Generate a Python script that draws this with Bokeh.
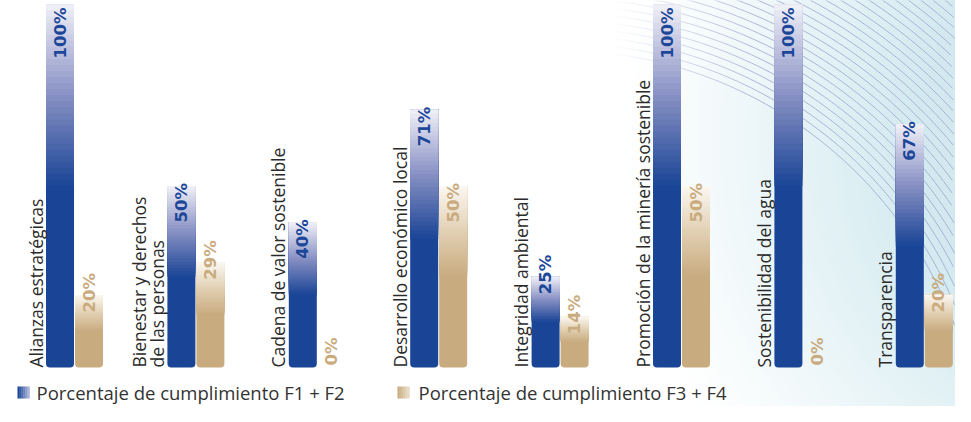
import numpy as np
from bokeh.plotting import figure
from bokeh.models import Range1d, ColumnDataSource
from bokeh.embed import file_html
from bokeh.resources import INLINE
from bokeh.core.properties import value

# ---------------- data ----------------
categories = [
    "Alianzas estratégicas",
    "Bienestar y derechos\nde las personas",
    "Cadena de valor sostenible",
    "Desarrollo económico local",
    "Integridad ambiental",
    "Promoción de la minería sostenible",
    "Sostenibilidad del agua",
    "Transparencia",
]
f1_f2 = [100, 50, 40, 71, 25, 100, 100, 67]
f3_f4 = [20, 29, 0, 50, 14, 50, 0, 20]
series_names = ["Porcentaje de cumplimiento F1 + F2", "Porcentaje de cumplimiento F3 + F4"]

# ---------------- layout constants ----------------
W, H = 955, 406
PX_PER_GROUP = 121.4
GC0 = 74.0          # px of first group centre
Y0PX = 367.0        # px of 0 %
PPU = 3.63          # px per percent
x0 = -GC0 / PX_PER_GROUP
x1 = x0 + W / PX_PER_GROUP
y_top = Y0PX / PPU
y_bot = -(H - Y0PX) / PPU
BAR_W = 28.0 / PX_PER_GROUP
HALF = 14.5 / PX_PER_GROUP

p = figure(width=W, height=H, x_range=Range1d(x0, x1), y_range=Range1d(y_bot, y_top),
           output_backend="svg", toolbar_location=None, min_border=0,
           x_axis_location=None, y_axis_location=None)
p.grid.visible = False
p.outline_line_color = None
p.background_fill_color = "white"
p.border_fill_color = "white"
p.extra_x_ranges = {"px": Range1d(0, W)}
p.extra_y_ranges = {"px": Range1d(H, 0)}


def hex2rgb(h):
    h = h.lstrip("#")
    return tuple(int(h[i:i + 2], 16) for i in (0, 2, 4))


def rgb2hex(c):
    return "#%02x%02x%02x" % tuple(int(round(v)) for v in c)


def interp(stops, t):
    for (t0, c0), (t1, c1) in zip(stops[:-1], stops[1:]):
        if t <= t1:
            u = (t - t0) / (t1 - t0) if t1 > t0 else 0
            a, b = hex2rgb(c0), hex2rgb(c1)
            return rgb2hex([a[k] + (b[k] - a[k]) * u for k in range(3)])
    return stops[-1][1]


# ---------------- decorative background ----------------
cx, cy = 1140.0, 140.0
radii = np.arange(520, 120, -5)
bg_cols = [interp([(0, "#ffffff"), (1, "#d1e9ef")], float(np.clip((520 - r) / 300, 0, 1)) ** 1.1)
           for r in radii]
p.circle(x=[cx] * len(radii), y=[cy] * len(radii), radius=radii, fill_color=bg_cols,
         line_color=None, x_range_name="px", y_range_name="px")

acx, acy = 560.0, 470.0
xs, ys, al = [], [], []
for r in np.arange(420, 614, 7.5):
    th = np.linspace(0, np.pi, int(r * np.pi / 7))
    px = acx + r * np.cos(th)
    py = acy - r * np.sin(th)
    for k in range(len(th) - 1):
        xa, xb, ya, yb = px[k], px[k + 1], py[k], py[k + 1]
        if not (0 <= xa <= W and 0 <= xb <= W and -5 <= ya <= H and -5 <= yb <= H):
            continue
        a = float(np.clip(((xa + xb) / 2 - 610) / 150, 0, 1)) * 0.85
        if a <= 0.01:
            continue
        xs.append([xa, xb]); ys.append([ya, yb]); al.append(a)
p.multi_line(xs=xs, ys=ys, line_color="#a1a9d2", line_alpha=al, line_width=1,
             x_range_name="px", y_range_name="px")

# ---------------- bars ----------------
FADE = 0.5
NS = 30
blue_stops = [(0, "#1a4596"), (0.5, "#8890c4"), (1, "#f1f1f8")]
tan_stops = [(0, "#c8ab7f"), (0.5, "#e2d0b3"), (1, "#fbf8f2")]


def draw_series(vals, offset, solid, stops):
    sx, st = [], []
    gx, gb, gt, gc = [], [], [], []
    for i, v in enumerate(vals):
        if v <= 0:
            continue
        xc = i + offset
        sx.append(xc); st.append(v)
        seg = v * (1 - FADE) / NS
        for k in range(NS):
            gx.append(xc); gb.append(v * FADE + seg * k); gt.append(v)
            gc.append(interp(stops, (k + 0.5) / NS))
    p.vbar(x=sx, width=BAR_W, bottom=0, top=st, fill_color=solid, line_color=None,
           border_radius=(0, 0, 4, 4))
    p.vbar(x=gx, width=BAR_W, bottom=gb, top=gt, fill_color=gc, line_color=None)


draw_series(f1_f2, -HALF, blue_stops[0][1], blue_stops)
draw_series(f3_f4, HALF, tan_stops[0][1], tan_stops)


# ---------------- value labels ----------------
def draw_labels(vals, offset, color):
    top_x, top_y, top_t = [], [], []
    bot_x, bot_t = [], []
    for i, v in enumerate(vals):
        t = "%d%%" % v
        if v == 0:
            bot_x.append(i + offset); bot_t.append(t)
        else:
            ly = v + (22 if v < 35 else 3) / PPU
            ly = min(ly, y_top - 7 / PPU)
            top_x.append(i + offset); top_y.append(ly); top_t.append(t)
    common = dict(angle=np.pi / 2, text_font=value("DejaVu Sans"), text_font_style="bold",
                  text_font_size="16.5px", text_color=color, text_baseline="middle")
    if top_x:
        p.text(x=top_x, y=top_y, text=top_t, text_align="right", **common)
    if bot_x:
        p.text(x=bot_x, y=[0] * len(bot_x), text=bot_t, text_align="left", y_offset=-2, **common)


draw_labels(f1_f2, -HALF, "#1d4799")
draw_labels(f3_f4, HALF, "#c9ab7e")

# ---------------- category labels ----------------
lx, lt, lo = [], [], []
for i, c in enumerate(categories):
    lines = c.split("\n")
    n = len(lines)
    for j, ln in enumerate(lines):
        lx.append(i); lt.append(ln); lo.append(-39 - 18 * (n - 1 - j))
src = ColumnDataSource(dict(x=lx, y=[0] * len(lx), text=lt, xo=lo))
p.text(x="x", y="y", text="text", x_offset="xo", source=src, angle=np.pi / 2,
       text_align="left", text_baseline="alphabetic", text_font=value("Open Sans"),
       text_font_size="17.5px", text_color="#2a2a2a")

# ---------------- legend ----------------
leg = [(17, 36, blue_stops[0][1], "#a9b3d8"), (397, 418, tan_stops[0][1], "#e9dcc6")]
for (sx0, tx0, c0, c1), name in zip(leg, series_names):
    n = 6
    qs = [sx0 + 12 * k / n for k in range(n)]
    p.quad(left=qs, right=[q + 12 / n + 0.3 for q in qs], top=[386] * n, bottom=[398] * n,
           fill_color=[interp([(0, c0), (1, c1)], k / (n - 1)) for k in range(n)],
           line_color=None, x_range_name="px", y_range_name="px")
    p.text(x=[tx0], y=[392], text=[name], text_align="left", text_baseline="middle",
           text_font=value("Open Sans"), text_font_size="18.5px", text_color="#333333",
           x_range_name="px", y_range_name="px")

open("out.html", "w").write(file_html(p, INLINE))
